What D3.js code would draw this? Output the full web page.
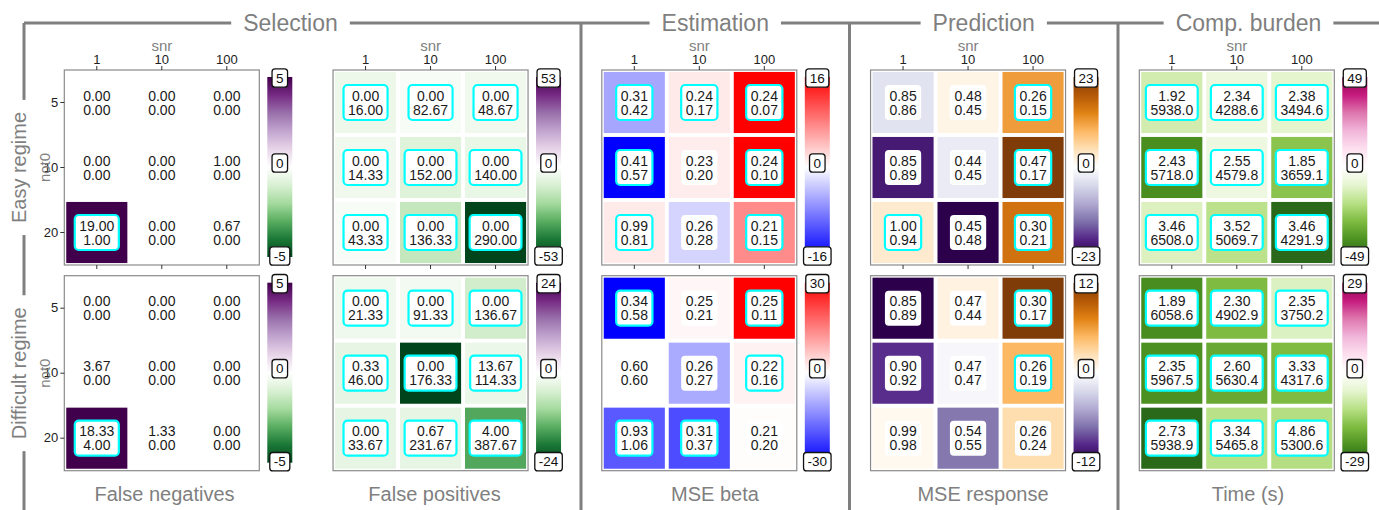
<!DOCTYPE html>
<html><head><meta charset="utf-8">
<script src="https://cdn.jsdelivr.net/npm/d3@7"></script>
<style>body{margin:0;background:#fff}svg{display:block}</style>
</head><body>
<svg id="c" width="1379" height="510"></svg>
<script>
// ---------- data ----------
const snr = ["1", "10", "100"];
const not0 = ["5", "10", "20"];
const regimes = ["Easy regime", "Difficult regime"];
const sections = ["Selection", "Estimation", "Prediction", "Comp. burden"];
const metrics = ["False negatives", "False positives", "MSE beta", "MSE response", "Time (s)"];

// each: [regime][not0 row][snr col]
const fnTop = [[[0,0,0],[0,0,1],[19,0,0.67]], [[0,0,0],[3.67,0,0],[18.33,1.33,0]]];
const fnBottom = [[[0,0,0],[0,0,0],[1,0,0]], [[0,0,0],[0,0,0],[4,0,0]]];
const fnStat = [[[0,0,0],[0,0,0],[6,0,0]], [[0,0,0],[0,0,0],[6,0,0]]];
const fnSig = [[[0,0,0],[0,0,0],[1,0,0]], [[0,0,0],[0,0,0],[1,0,0]]];
const fnLimit = [5, 5];

const fpTop = [[[0,0,0],[0,0,0],[0,0,0]], [[0,0,0],[0.33,0,13.67],[0,0.67,4]]];
const fpBottom = [[[16,82.67,48.67],[14.33,152,140],[43.33,136.33,290]], [[21.33,91.33,136.67],[46,176.33,114.33],[33.67,231.67,387.67]]];
const fpStat = [[[-5,-2,-4],[-4,-9,-6],[-2,-15,-60]], [[-2,-1.5,-5.5],[-3,-30,-2.5],[-3,-3,-15]]];
const fpSig = [[[1,1,1],[1,1,1],[1,1,1]], [[1,1,1],[1,1,1],[1,1,1]]];
const fpLimit = [53, 24];

const betaTop = [[[0.31,0.24,0.24],[0.41,0.23,0.24],[0.99,0.26,0.21]], [[0.34,0.25,0.25],[0.60,0.26,0.22],[0.93,0.31,0.21]]];
const betaBottom = [[[0.42,0.17,0.07],[0.57,0.20,0.10],[0.81,0.28,0.15]], [[0.58,0.21,0.11],[0.60,0.27,0.16],[1.06,0.37,0.20]]];
const betaStat = [[[-5.6,1.3,20],[-20,1.2,20],[1.3,-2.7,7.3]], [[-35,1,35],[0,-10,1.5],[-19.5,-21,0.3]]];
const betaSig = [[[1,1,1],[1,0,1],[1,0,1]], [[1,0,1],[0,0,1],[1,1,0]]];
const betaLimit = [16, 30];

const respTop = [[[0.85,0.48,0.26],[0.85,0.44,0.47],[1.00,0.45,0.30]], [[0.85,0.47,0.30],[0.90,0.47,0.26],[0.99,0.54,0.26]]];
const respBottom = [[[0.86,0.45,0.15],[0.89,0.45,0.17],[0.94,0.48,0.21]], [[0.89,0.44,0.17],[0.92,0.47,0.19],[0.98,0.55,0.24]]];
const respStat = [[[-3.5,1.5,11.5],[-20,-2.5,25],[3,-25,15.5]], [[-13,1,13],[-9.4,-0.5,4.8],[0.5,-7,2.6]]];
const respSig = [[[0,0,1],[0,0,1],[1,0,1]], [[0,0,1],[0,0,1],[0,0,0]]];
const respLimit = [23, 12];

const timeTop = [[[1.92,2.34,2.38],[2.43,2.55,1.85],[3.46,3.52,3.46]], [[1.89,2.30,2.35],[2.35,2.60,3.33],[2.73,3.34,4.86]]];
const timeBottom = [[[5938.0,4288.6,3494.6],[5718.0,4579.8,3659.1],[6508.0,5069.7,4291.9]], [[6058.6,4902.9,3750.2],[5967.5,5630.4,4317.6],[5938.9,5465.8,5300.6]]];
const timeStat = [[[-14,-7.5,-10],[-40,-6.5,-27.5],[-12,-19,-48]], [[-23.8,-17.5,-7],[-23.5,-20,-17.5],[-28.5,-11.5,-12]]];
const timeSig = [[[1,1,1],[1,1,1],[1,1,1]], [[1,1,1],[1,1,1],[1,1,1]]];
const timeLimit = [49, 29];

const palettes = ["PRGn", "PRGn", "BWR", "PuOr", "PiYG"];
const decimals = [[2,2],[2,2],[2,2],[2,2],[2,1]];

const tables = [
  {top: fnTop, bottom: fnBottom, stat: fnStat, sig: fnSig, lim: fnLimit},
  {top: fpTop, bottom: fpBottom, stat: fpStat, sig: fpSig, lim: fpLimit},
  {top: betaTop, bottom: betaBottom, stat: betaStat, sig: betaSig, lim: betaLimit},
  {top: respTop, bottom: respBottom, stat: respStat, sig: respSig, lim: respLimit},
  {top: timeTop, bottom: timeBottom, stat: timeStat, sig: timeSig, lim: timeLimit}
];

// ---------- layout ----------
const W = 1379, H = 510;
const panelW = 195, panelH = 195;
const panelX0 = 64.3, panelStep = 268.75;
const rowY = [70, 275.7];
const sectionEdges = [0, 581, 849.5, 1118, 1379];
const nameX = [164.5, 434.5, 715, 983, 1248];
const lineY = 23, leftX = 24;
const grey = "#7f7f7f";
const font = "'Liberation Sans', Arial, Helvetica, sans-serif";

const svg = d3.select("#c").attr("font-family", font);

const x = d3.scaleBand().domain(snr).range([0, panelW]).paddingInner(0.06).paddingOuter(0.03);
const y = d3.scaleBand().domain(not0).range([0, panelH]).paddingInner(0.06).paddingOuter(0.03);

function colorFor(p, lim) {
  let s;
  if (p === "BWR") {
    s = d3.scaleLinear().domain([-lim, 0, lim]).range(["#0000ff", "#ffffff", "#ff0000"])
      .interpolate(d3.interpolateRgb).clamp(true);
    return v => s(v);
  }
  const colors = d3["scheme" + p][11].slice();
  colors[5] = "#ffffff";
  // PRGn / PiYG: first colour is the positive end; PuOr: first colour is the negative end
  const dom = d3.range(11).map(i => lim - 2 * lim * i / 10);
  s = d3.scaleLinear().domain(dom)
    .range(p === "PuOr" ? colors.slice().reverse() : colors)
    .interpolate(d3.interpolateRgb).clamp(true);
  return v => s(v);
}

const defs = svg.append("defs");

tables.forEach((t, m) => {
  const px = panelX0 + m * panelStep;
  const fmtA = d3.format("." + decimals[m][0] + "f");
  const fmtB = d3.format("." + decimals[m][1] + "f");
  [0, 1].forEach(r => {
    const py = rowY[r];
    const lim = t.lim[r];
    const col = colorFor(palettes[m], lim);
    const g = svg.append("g").attr("transform", `translate(${px},${py})`);

    const cells = [];
    not0.forEach((rv, i) => snr.forEach((cv, j) => cells.push({
      r: rv, c: cv, a: t.top[r][i][j], b: t.bottom[r][i][j], s: t.stat[r][i][j], sig: t.sig[r][i][j]
    })));

    g.selectAll("rect.tile").data(cells).join("rect").attr("class", "tile")
      .attr("x", d => x(d.c)).attr("y", d => y(d.r))
      .attr("width", x.bandwidth()).attr("height", y.bandwidth())
      .attr("fill", d => col(d.s));

    const lab = g.selectAll("g.lab").data(cells).join("g").attr("class", "lab")
      .attr("transform", d => `translate(${x(d.c) + x.bandwidth() / 2},${y(d.r) + y.bandwidth() / 2})`);
    lab.append("rect");
    lab.append("text").attr("y", -7).text(d => fmtA(d.a));
    lab.append("text").attr("y", 7).text(d => fmtB(d.b));
    lab.selectAll("text").attr("text-anchor", "middle").attr("dominant-baseline", "central")
      .attr("font-size", 14).attr("fill", "#1a1a1a");
    lab.each(function (d) {
      const ts = d3.select(this).selectAll("text").nodes();
      const w = Math.max(...ts.map(n => n.getComputedTextLength())) + 9;
      const h = 35;
      d3.select(this).select("rect").attr("x", -w / 2).attr("y", -h / 2)
        .attr("width", w).attr("height", h).attr("rx", 4)
        .attr("fill", "#fff")
        .attr("stroke", d.sig ? "#00ffff" : "none").attr("stroke-width", 2.2);
    });

    g.append("rect").attr("width", panelW).attr("height", panelH)
      .attr("fill", "none").attr("stroke", "#8a8a8a").attr("stroke-width", 1.2);

    // axes
    if (r === 0) {
      const ax = g.append("g").call(d3.axisTop(x).tickSize(4).tickPadding(2));
      styleAxis(ax);
      const bx = g.append("g").attr("transform", `translate(0,${panelH})`)
        .call(d3.axisBottom(x).tickSize(4).tickFormat(""));
      styleAxis(bx);
      g.append("text").attr("x", panelW / 2).attr("y", -25).attr("text-anchor", "middle")
        .attr("dominant-baseline", "central").attr("font-size", 15).attr("fill", grey).text("snr");
    }
    if (m === 0) {
      const ay = g.append("g").call(d3.axisLeft(y).tickSize(4).tickPadding(2));
      styleAxis(ay);
      g.append("text").attr("transform", `translate(-20,${panelH / 2}) rotate(-90)`)
        .attr("text-anchor", "middle").attr("dominant-baseline", "central")
        .attr("font-size", 15).attr("fill", grey).text("not0");
    }

    // colorbar
    const gid = `grad${m}_${r}`;
    const grad = defs.append("linearGradient").attr("id", gid)
      .attr("x1", 0).attr("y1", 0).attr("x2", 0).attr("y2", 1);
    d3.range(0, 1.0001, 0.02).forEach(o => {
      grad.append("stop").attr("offset", o).attr("stop-color", col(lim - 2 * lim * o));
    });
    const cbX = panelW + 8, cbW = 25;
    g.append("rect").attr("x", cbX).attr("y", 7).attr("width", cbW).attr("height", panelH - 15)
      .attr("fill", `url(#${gid})`);
    const cy = d3.scaleLinear().domain([lim, -lim]).range([8, panelH - 9]);
    [lim, 0, -lim].forEach(v => {
      const lg = g.append("g").attr("transform", `translate(${cbX + cbW / 2},${cy(v) + (v === 0 ? -4 : 0)})`);
      const tx = lg.append("text").attr("text-anchor", "middle").attr("dominant-baseline", "central")
        .attr("font-size", 13.5).attr("fill", "#111").text(v);
      const w = tx.node().getComputedTextLength() + 8;
      lg.insert("rect", "text").attr("x", -w / 2).attr("y", -9.2).attr("width", w).attr("height", 18.4)
        .attr("rx", 3).attr("fill", "#fff").attr("stroke", "#111").attr("stroke-width", 1.3);
    });
  });

  // metric name
  svg.append("text").attr("x", nameX[m]).attr("y", 501).attr("text-anchor", "middle")
    .attr("font-size", 20).attr("fill", grey).text(metrics[m]);
});

function styleAxis(a) {
  a.select(".domain").remove();
  a.selectAll(".tick line").attr("stroke", "#333");
  a.selectAll(".tick text").attr("font-size", 13).attr("fill", "#222").attr("font-family", font);
}

// ---------- frame: titles and lines ----------
const frame = svg.append("g").attr("stroke", grey).attr("stroke-width", 3).attr("fill", "none");
let hx = leftX;
sections.forEach((s, i) => {
  const cx = (sectionEdges[i] + sectionEdges[i + 1]) / 2;
  const tx = svg.append("text").attr("x", cx).attr("y", 30.5).attr("text-anchor", "middle")
    .attr("font-size", 23).attr("fill", grey).text(s);
  const w = tx.node().getComputedTextLength();
  frame.append("line").attr("x1", hx).attr("x2", cx - w / 2 - 12).attr("y1", lineY).attr("y2", lineY);
  hx = cx + w / 2 + 12;
});
frame.append("line").attr("x1", hx).attr("x2", W).attr("y1", lineY).attr("y2", lineY);

sectionEdges.slice(1, -1).forEach(e => {
  frame.append("line").attr("x1", e).attr("x2", e).attr("y1", lineY).attr("y2", H);
});

let vy = lineY;
regimes.forEach((rg, r) => {
  const cy = rowY[r] + panelH / 2;
  const tx = svg.append("text").attr("transform", `translate(19,${cy}) rotate(-90)`)
    .attr("text-anchor", "middle").attr("dominant-baseline", "central")
    .attr("font-size", 20).attr("fill", grey).text(rg);
  const w = tx.node().getComputedTextLength();
  frame.append("line").attr("x1", leftX).attr("x2", leftX).attr("y1", vy).attr("y2", cy - w / 2 - 12);
  vy = cy + w / 2 + 12;
});
frame.append("line").attr("x1", leftX).attr("x2", leftX).attr("y1", vy).attr("y2", H);
</script>
</body></html>
